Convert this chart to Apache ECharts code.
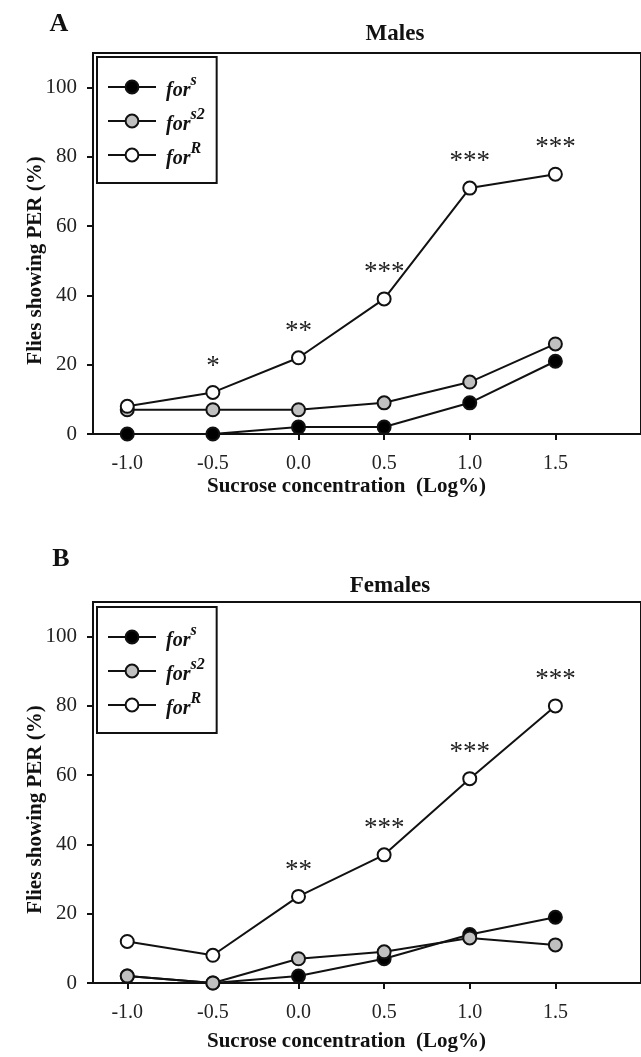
<!DOCTYPE html>
<html>
<head>
<meta charset="utf-8">
<script src="https://cdn.jsdelivr.net/npm/echarts@6/dist/echarts.min.js"></script>
<style>
  html, body { margin: 0; padding: 0; background: #fff; }
  #chart { width: 641px; height: 1057px; }
</style>
</head>
<body>
<div id="chart"></div>
<script>
// sucrose concentration (log %)
const conc = [-1.0, -0.5, 0.0, 0.5, 1.0, 1.5];
const xTicks = [-1.0, -0.5, 0.0, 0.5, 1.0, 1.5];
const yTicks = [0, 20, 40, 60, 80, 100];

// % flies showing PER, males
const maleForS = [0, 0, 2, 2, 9, 21];
const maleForS2 = [7, 7, 7, 9, 15, 26];
const maleForR = [8, 12, 22, 39, 71, 75];
const maleStars = ['', '*', '**', '***', '***', '***'];

// % flies showing PER, females
const femaleForS = [2, 0, 2, 7, 14, 19];
const femaleForS2 = [2, 0, 7, 9, 13, 11];
const femaleForR = [12, 8, 25, 37, 59, 80];
const femaleStars = ['', '', '**', '***', '***', '***'];

const FONT = "'Liberation Serif', 'Times New Roman', serif";
const INK = '#111';

const pairs = (ys) => conc.map((x, i) => [x, ys[i]]);

const makeSeries = (name, ys, fill, idx, stars) => {
    const s = {
        name: name,
        type: 'line',
        xAxisIndex: idx,
        yAxisIndex: idx,
        data: pairs(ys),
        symbol: 'circle',
        symbolSize: 13,
        z: 3,
        lineStyle: { color: INK, width: 2 },
        itemStyle: { color: fill, borderColor: INK, borderWidth: 2 },
        emphasis: { disabled: true },
        animation: false
    };
    if (stars) {
        s.label = {
            show: true,
            position: 'top',
            distance: 5,
            fontFamily: FONT,
            fontSize: 27,
            color: '#222',
            formatter: (p) => stars[p.dataIndex]
        };
    }
    return s;
};

const xAxisOf = (idx, gap) => ({
    type: 'value',
    gridIndex: idx,
    min: -1.2,
    max: 2.0,
    name: 'Sucrose concentration  (Log%)',
    nameLocation: 'middle',
    nameGap: gap,
    nameMoveOverlap: false,
    nameTextStyle: {
        fontFamily: FONT, fontWeight: 'bold', fontSize: 21, color: INK,
        padding: [0, 41, 0, 0]
    },
    axisLine: { onZero: false, lineStyle: { color: INK, width: 2 } },
    axisTick: { show: true, customValues: xTicks, length: 6, lineStyle: { color: INK, width: 2 } },
    axisLabel: {
        customValues: xTicks,
        margin: 20,
        fontFamily: FONT, fontSize: 20, color: '#222',
        formatter: (v) => v.toFixed(1)
    },
    splitLine: { show: false }
});

const yAxisOf = (idx) => ({
    type: 'value',
    gridIndex: idx,
    min: 0,
    max: 110,
    name: 'Flies showing PER (%)',
    nameLocation: 'middle',
    nameRotate: 90,
    nameGap: 47,
    nameMoveOverlap: false,
    nameTextStyle: {
        fontFamily: FONT, fontWeight: 'bold', fontSize: 21, color: INK,
        padding: [0, 34, 0, 0]
    },
    axisLine: { show: true, onZero: false, lineStyle: { color: INK, width: 2 } },
    axisTick: { show: true, customValues: yTicks, length: 6, lineStyle: { color: INK, width: 2 } },
    axisLabel: {
        customValues: yTicks,
        margin: 16,
        fontFamily: FONT, fontSize: 21, color: '#222'
    },
    splitLine: { show: false }
});

const legendOf = (top) => ({
    left: 97,
    top: top,
    orient: 'vertical',
    selectedMode: false,
    itemWidth: 48,
    itemHeight: 16,
    itemGap: 6,
    padding: [16, 12, 14, 10],
    borderColor: INK,
    borderWidth: 2,
    data: ['fors', 'fors2', 'forR'],
    formatter: (name) => '{b|for}{s|' + name.slice(3) + '}',
    textStyle: {
        rich: {
            b: {
                fontFamily: FONT, fontStyle: 'italic', fontWeight: 'bold',
                fontSize: 20, lineHeight: 28, color: INK,
                verticalAlign: 'bottom', padding: [0, 0, 0, 5]
            },
            s: {
                fontFamily: FONT, fontStyle: 'italic', fontWeight: 'bold',
                fontSize: 16, lineHeight: 12, color: INK,
                verticalAlign: 'top'
            }
        }
    }
});

const textEl = (str, x, y, size) => ({
    type: 'text',
    x: x,
    y: y,
    style: {
        text: str,
        fontFamily: FONT,
        fontWeight: 'bold',
        fontSize: size,
        fill: INK,
        align: 'center',
        verticalAlign: 'middle'
    }
});

const chart = echarts.init(document.getElementById('chart'), null, { renderer: 'canvas' });

chart.setOption({
    backgroundColor: '#fff',
    animation: false,
    grid: [
        { left: 93, top: 53, width: 598, height: 381, show: true, borderColor: INK, borderWidth: 2, backgroundColor: 'transparent' },
        { left: 93, top: 602, width: 598, height: 381, show: true, borderColor: INK, borderWidth: 2, backgroundColor: 'transparent' }
    ],
    xAxis: [xAxisOf(0, 42), xAxisOf(1, 48)],
    yAxis: [yAxisOf(0), yAxisOf(1)],
    legend: [legendOf(57), legendOf(607)],
    graphic: [
        textEl('A', 59, 24, 26),
        textEl('B', 61, 559, 26),
        textEl('Males', 395, 34, 23),
        textEl('Females', 390, 586, 23)
    ],
    series: [
        makeSeries('fors', maleForS, '#000', 0),
        makeSeries('fors2', maleForS2, '#c0c0c0', 0),
        makeSeries('forR', maleForR, '#fff', 0, maleStars),
        makeSeries('fors', femaleForS, '#000', 1),
        makeSeries('fors2', femaleForS2, '#c0c0c0', 1),
        makeSeries('forR', femaleForR, '#fff', 1, femaleStars)
    ]
});
</script>
</body>
</html>
